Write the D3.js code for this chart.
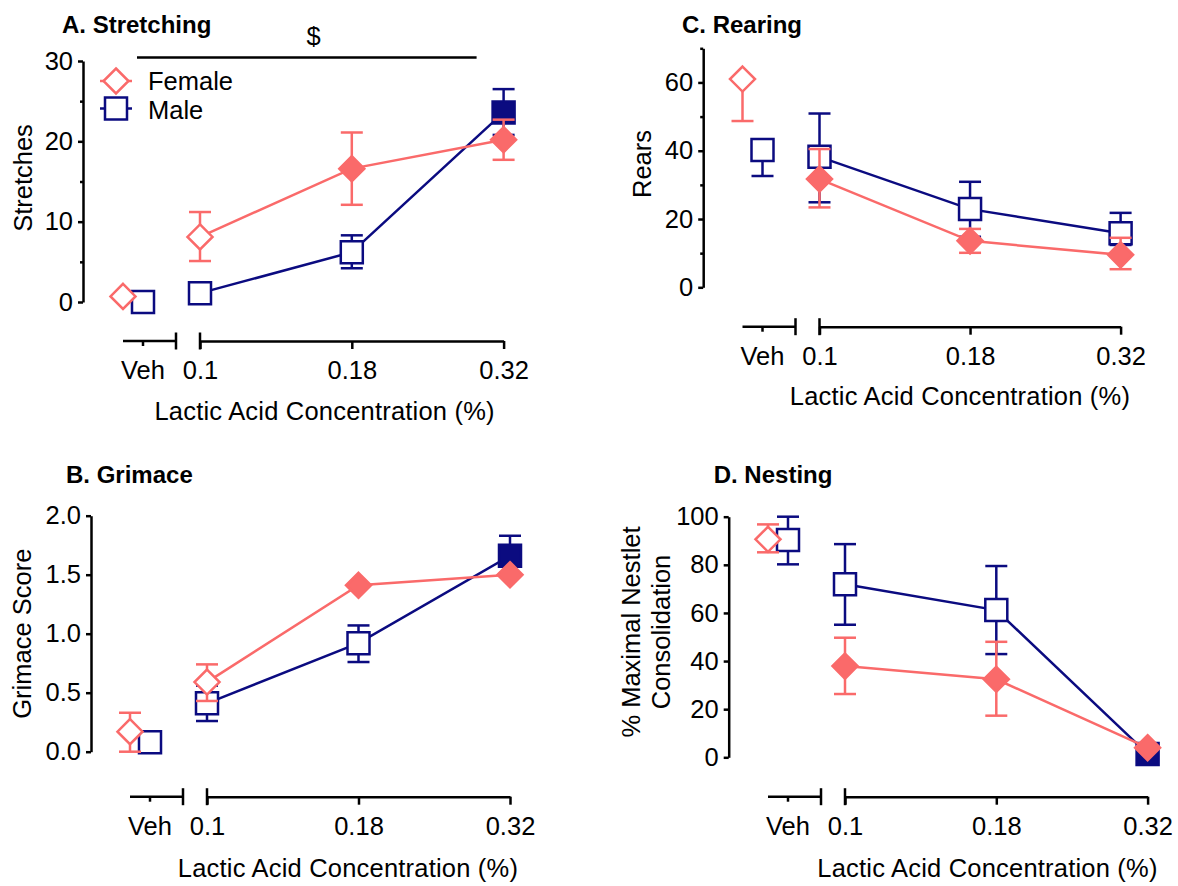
<!DOCTYPE html>
<html>
<head>
<meta charset="utf-8">
<script src="https://cdn.jsdelivr.net/npm/d3@7/dist/d3.min.js"></script>
<style>
    body { margin: 0; background: #ffffff; }
    svg { font-family: "Liberation Sans", Arial, Helvetica, sans-serif; }
</style>
</head>
<body>
<div id="chart"></div>
<script>
// dose categories (Veh is drawn on its own broken segment)
const doses = ["Veh", "0.1", "0.18", "0.32"];
const seriesNames = ["Female", "Male"];

// A. Stretching
const stretchFemale = [0.7, 8.1, 16.6, 20.2];
const stretchFemaleHi = [null, 11.2, 21.1, 22.7];
const stretchFemaleLo = [null, 5.1, 12.1, 17.7];
const stretchFemaleFilled = [false, false, true, true];
const stretchMale = [0, 1.1, 6.2, 23.6];
const stretchMaleHi = [null, null, 8.3, 26.5];
const stretchMaleLo = [null, null, 4.2, 20.8];
const stretchMaleFilled = [false, false, false, true];
const stretchTicks = [0, 10, 20, 30];
const stretchMinor = [5, 15, 25];

// B. Grimace
const grimaceFemale = [0.17, 0.59, 1.41, 1.50];
const grimaceFemaleHi = [0.33, 0.74, null, null];
const grimaceFemaleLo = [0.0, 0.43, null, null];
const grimaceFemaleFilled = [false, false, true, true];
const grimaceMale = [0.08, 0.41, 0.92, 1.66];
const grimaceMaleHi = [null, 0.56, 1.07, 1.83];
const grimaceMaleLo = [null, 0.26, 0.76, 1.49];
const grimaceMaleFilled = [false, false, false, true];
const grimaceTicks = [0, 0.5, 1.0, 1.5, 2.0];
const grimaceMinor = [];

// C. Rearing
const rearFemale = [61.0, 31.7, 13.6, 9.5];
const rearFemaleHi = [null, 40.5, 17.1, 14.5];
const rearFemaleLo = [48.7, 23.4, 10.1, 5.3];
const rearFemaleFilled = [false, true, true, true];
const rearMale = [40.2, 38.2, 22.9, 15.8];
const rearMaleHi = [null, 50.9, 30.9, 21.8];
const rearMaleLo = [32.6, 24.9, 14.8, 12.4];
const rearMaleFilled = [false, false, false, false];
const rearTicks = [0, 20, 40, 60];
const rearMinor = [10, 30, 50, 70];

// D. Nesting
const nestFemale = [90.6, 37.9, 32.4, 4.0];
const nestFemaleHi = [96.8, 49.7, 48.0, null];
const nestFemaleLo = [85.2, 26.3, 17.3, null];
const nestFemaleFilled = [false, true, true, true];
const nestMale = [90.3, 71.9, 61.2, 1.4];
const nestMaleHi = [100, 88.6, 79.5, null];
const nestMaleLo = [80.2, 55.1, 42.9, null];
const nestMaleFilled = [false, false, false, true];
const nestTicks = [0, 20, 40, 60, 80, 100];
const nestMinor = [];

const xAxisTitle = "Lactic Acid Concentration (%)";

const femaleColor = "#fa6a6a";
const maleColor = "#0b0b80";
const fontSize = 25.5;


class DosePanel {
    constructor(svg, config) {
        this.svg = svg;
        this.config = config;

        this.initVis();
    }

    initVis() {
        let vis = this;
        let c = vis.config;

        vis.g = vis.svg.append("g").attr("class", "panel-" + c.id);

        vis.x = d3.scalePoint()
                    .domain(doses.slice(1))
                    .range([c.x01, c.x032]);
        vis.xVeh = c.x01 - 57;

        vis.y = d3.scaleLinear()
                    .domain(c.yDomain)
                    .range([c.yZero, c.yTop]);

        vis.line = d3.line()
                    .x(d => vis.xPos(d.i, d.sex))
                    .y(d => vis.y(d.v));

        vis.wrangleData();
    }

    xPos(i, sex) {
        let vis = this;
        if (i === 0) return vis.xVeh + (sex === "Female" ? -20 : 0);
        return vis.x(doses[i]);
    }

    wrangleData() {
        let vis = this;
        let c = vis.config;
        vis.displayData = c.series.map(s => ({
            sex: s.sex,
            color: s.color,
            shape: s.shape,
            points: doses.map((d, i) => ({
                i: i, sex: s.sex, v: s.mean[i], hi: s.hi[i], lo: s.lo[i], filled: s.filled[i]
            }))
        }));
        vis.updateVis();
    }

    updateVis() {
        let vis = this;
        let c = vis.config;

        // Title
        vis.g.append("text")
            .attr("x", c.titleX)
            .attr("y", c.titleY)
            .attr("font-size", 24)
            .attr("font-weight", "700")
            .text(c.title);

        // Y axis
        let yAxis = d3.axisLeft(vis.y)
                        .tickValues(c.ticks)
                        .tickFormat(c.fmt)
                        .tickSize(5)
                        .tickPadding(5)
                        .tickSizeOuter(0);

        let yg = vis.g.append("g")
            .attr("transform", "translate(" + c.axisX + ",0)")
            .call(yAxis);
        yg.attr("font-size", fontSize).attr("font-family", null);
        yg.selectAll("path, line").attr("stroke", "#000").attr("stroke-width", 2.5);
        yg.selectAll("text").attr("fill", "#000");

        if (c.minor.length) {
            let ym = vis.g.append("g")
                .attr("transform", "translate(" + c.axisX + ",0)")
                .call(d3.axisLeft(vis.y).tickValues(c.minor).tickSize(3).tickFormat(""));
            ym.select(".domain").remove();
            ym.selectAll("line").attr("stroke", "#000").attr("stroke-width", 2.5);
        }

        // Y label
        c.yLabel.forEach((lab, k) => {
            vis.g.append("text")
                .attr("transform", "translate(" + (c.yLabelX + k * 30) + "," + c.yLabelY + ") rotate(-90)")
                .attr("text-anchor", "middle")
                .attr("dy", "0.35em")
                .attr("font-size", fontSize)
                .text(lab);
        });

        // X axis, main segment
        let xAxis = d3.axisBottom(vis.x)
                        .tickSize(8)
                        .tickPadding(12)
                        .tickSizeOuter(0);

        let xg = vis.g.append("g")
            .attr("transform", "translate(0," + c.xAxisY + ")")
            .call(xAxis);
        xg.attr("font-size", fontSize).attr("font-family", null);
        xg.selectAll("path, line").attr("stroke", "#000").attr("stroke-width", 2.5);
        xg.selectAll("text").attr("fill", "#000");

        // break caps and the Veh segment
        let brk = vis.g.append("g")
            .attr("transform", "translate(0," + c.xAxisY + ")")
            .attr("stroke", "#000")
            .attr("stroke-width", 2.5);
        brk.append("line")
            .attr("x1", c.x01).attr("x2", c.x01)
            .attr("y1", -8.5).attr("y2", 8.5);
        brk.append("line")
            .attr("x1", vis.xVeh - 20).attr("x2", c.x01 - 24)
            .attr("y1", 0).attr("y2", 0);
        brk.append("line")
            .attr("x1", c.x01 - 24).attr("x2", c.x01 - 24)
            .attr("y1", -8.5).attr("y2", 8.5);
        brk.append("line")
            .attr("x1", vis.xVeh).attr("x2", vis.xVeh)
            .attr("y1", 0).attr("y2", 5);

        vis.g.append("text")
            .attr("x", vis.xVeh)
            .attr("y", c.xAxisY + 8 + 12)
            .attr("dy", "0.71em")
            .attr("text-anchor", "middle")
            .attr("font-size", fontSize)
            .text(doses[0]);

        // X label
        vis.g.append("text")
            .attr("x", c.xLabelX)
            .attr("y", c.xLabelY)
            .attr("text-anchor", "middle")
            .attr("font-size", fontSize)
            .attr("letter-spacing", "0.2px")
            .text(xAxisTitle);

        // Series: male first, female on top
        vis.displayData.slice().reverse().forEach(s => {
            let sg = vis.g.append("g").attr("class", "series-" + s.sex);

            sg.append("path")
                .datum(s.points.slice(1))
                .attr("fill", "none")
                .attr("stroke", s.color)
                .attr("stroke-width", 2.5)
                .attr("d", vis.line);

            // error bars
            let bars = [];
            s.points.forEach(p => {
                if (p.hi !== null) bars.push({p: p, end: p.hi});
                if (p.lo !== null) bars.push({p: p, end: p.lo});
            });

            let eb = sg.selectAll(".err")
                .data(bars)
                .enter()
                .append("g")
                .attr("class", "err")
                .attr("stroke", s.color)
                .attr("stroke-width", 2.5);
            eb.append("line")
                .attr("x1", d => vis.xPos(d.p.i, s.sex))
                .attr("x2", d => vis.xPos(d.p.i, s.sex))
                .attr("y1", d => vis.y(d.p.v))
                .attr("y2", d => vis.y(d.end));
            eb.append("line")
                .attr("x1", d => vis.xPos(d.p.i, s.sex) - 11)
                .attr("x2", d => vis.xPos(d.p.i, s.sex) + 11)
                .attr("y1", d => vis.y(d.end))
                .attr("y2", d => vis.y(d.end));

            // markers
            sg.selectAll(".marker")
                .data(s.points)
                .enter()
                .append("path")
                .attr("class", "marker")
                .attr("transform", d => "translate(" + vis.xPos(d.i, s.sex) + "," + vis.y(d.v) + ")")
                .attr("d", s.shape === "diamond" ? "M0,-12.5L12.5,0L0,12.5L-12.5,0Z" : "M-11,-11H11V11H-11Z")
                .attr("fill", d => d.filled ? s.color : "#ffffff")
                .attr("stroke", s.color)
                .attr("stroke-width", 2.5);
        });
    }
}


let svg = d3.select("#chart")
            .append("svg")
            .attr("width", 1178)
            .attr("height", 886);

const panelConfigs = [
    {
        id: "A", title: "A. Stretching", titleX: 62, titleY: 33,
        axisX: 83, x01: 200, x032: 503.6, yZero: 302, yTop: 61, yDomain: [0, 30],
        ticks: stretchTicks, minor: stretchMinor, fmt: d3.format("d"),
        xAxisY: 341, yLabel: ["Stretches"], yLabelX: 23, yLabelY: 178,
        xLabelX: 324.6, xLabelY: 420,
        series: [
            {sex: "Female", color: femaleColor, shape: "diamond", mean: stretchFemale, hi: stretchFemaleHi, lo: stretchFemaleLo, filled: stretchFemaleFilled},
            {sex: "Male", color: maleColor, shape: "square", mean: stretchMale, hi: stretchMaleHi, lo: stretchMaleLo, filled: stretchMaleFilled}
        ]
    },
    {
        id: "B", title: "B. Grimace", titleX: 66, titleY: 483,
        axisX: 91, x01: 207, x032: 510, yZero: 751.7, yTop: 515.7, yDomain: [0, 2],
        ticks: grimaceTicks, minor: grimaceMinor, fmt: d3.format(".1f"),
        xAxisY: 796.7, yLabel: ["Grimace Score"], yLabelX: 22, yLabelY: 633.7,
        xLabelX: 348, xLabelY: 877,
        series: [
            {sex: "Female", color: femaleColor, shape: "diamond", mean: grimaceFemale, hi: grimaceFemaleHi, lo: grimaceFemaleLo, filled: grimaceFemaleFilled},
            {sex: "Male", color: maleColor, shape: "square", mean: grimaceMale, hi: grimaceMaleHi, lo: grimaceMaleLo, filled: grimaceMaleFilled}
        ]
    },
    {
        id: "C", title: "C. Rearing", titleX: 682, titleY: 33,
        axisX: 703.2, x01: 819.5, x032: 1120.6, yZero: 287.3, yTop: 48.3, yDomain: [0, 70],
        ticks: rearTicks, minor: rearMinor, fmt: d3.format("d"),
        xAxisY: 326.7, yLabel: ["Rears"], yLabelX: 642.5, yLabelY: 164,
        xLabelX: 960, xLabelY: 405,
        series: [
            {sex: "Female", color: femaleColor, shape: "diamond", mean: rearFemale, hi: rearFemaleHi, lo: rearFemaleLo, filled: rearFemaleFilled},
            {sex: "Male", color: maleColor, shape: "square", mean: rearMale, hi: rearMaleHi, lo: rearMaleLo, filled: rearMaleFilled}
        ]
    },
    {
        id: "D", title: "D. Nesting", titleX: 713.7, titleY: 483,
        axisX: 728.7, x01: 845, x032: 1147.6, yZero: 757.3, yTop: 516.7, yDomain: [0, 100],
        ticks: nestTicks, minor: nestMinor, fmt: d3.format("d"),
        xAxisY: 796.7, yLabel: ["% Maximal Nestlet", "Consolidation"], yLabelX: 631.2, yLabelY: 632,
        xLabelX: 987.5, xLabelY: 877,
        series: [
            {sex: "Female", color: femaleColor, shape: "diamond", mean: nestFemale, hi: nestFemaleHi, lo: nestFemaleLo, filled: nestFemaleFilled},
            {sex: "Male", color: maleColor, shape: "square", mean: nestMale, hi: nestMaleHi, lo: nestMaleLo, filled: nestMaleFilled}
        ]
    }
];

let charts = panelConfigs.map(cfg => new DosePanel(svg, cfg));

// Significance bar over panel A
let chartA = charts[0];
let sigG = svg.append("g");
sigG.append("line")
    .attr("x1", chartA.config.x01 - 63)
    .attr("x2", chartA.config.x032 - 27)
    .attr("y1", 57.5)
    .attr("y2", 57.5)
    .attr("stroke", "#000")
    .attr("stroke-width", 2.5);
sigG.append("text")
    .attr("x", 313.6)
    .attr("y", 45)
    .attr("text-anchor", "middle")
    .attr("font-size", fontSize)
    .text("$");

// Legend in panel A
let legend = svg.append("g").attr("class", "legend");
seriesNames.forEach((name, k) => {
    let cy = k === 0 ? 81 : 108.5;
    let color = k === 0 ? femaleColor : maleColor;
    let lg = legend.append("g").attr("transform", "translate(116," + cy + ")");
    lg.append("line")
        .attr("x1", -16).attr("x2", 16)
        .attr("stroke", color)
        .attr("stroke-width", 2.5);
    lg.append("path")
        .attr("d", k === 0 ? "M0,-12.5L12.5,0L0,12.5L-12.5,0Z" : "M-11,-11H11V11H-11Z")
        .attr("fill", "#ffffff")
        .attr("stroke", color)
        .attr("stroke-width", 2.5);
    legend.append("text")
        .attr("x", 148)
        .attr("y", k === 0 ? 89.5 : 119)
        .attr("font-size", fontSize)
        .text(name);
});
</script>
</body>
</html>
